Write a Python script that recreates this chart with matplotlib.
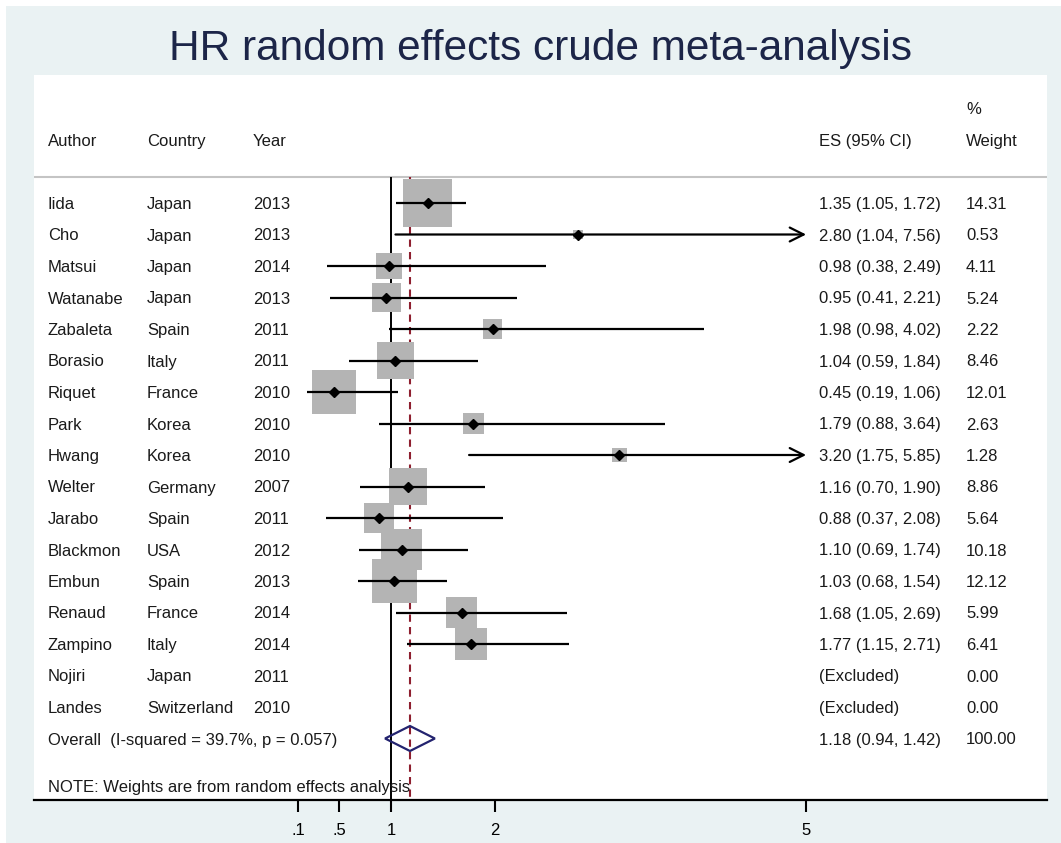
import numpy as np
import matplotlib
matplotlib.use("Agg")
import matplotlib.pyplot as plt
from matplotlib.patches import Rectangle, Polygon

plt.rcParams['font.family'] = ['Liberation Sans', 'DejaVu Sans']

# ---------------- data ----------------
authors = ["Iida", "Cho", "Matsui", "Watanabe", "Zabaleta", "Borasio", "Riquet", "Park",
           "Hwang", "Welter", "Jarabo", "Blackmon", "Embun", "Renaud", "Zampino", "Nojiri", "Landes"]
countries = ["Japan", "Japan", "Japan", "Japan", "Spain", "Italy", "France", "Korea",
             "Korea", "Germany", "Spain", "USA", "Spain", "France", "Italy", "Japan", "Switzerland"]
years = [2013, 2013, 2014, 2013, 2011, 2011, 2010, 2010, 2010, 2007, 2011, 2012, 2013, 2014, 2014, 2011, 2010]
es = [1.35, 2.80, 0.98, 0.95, 1.98, 1.04, 0.45, 1.79, 3.20, 1.16, 0.88, 1.10, 1.03, 1.68, 1.77, None, None]
lo = [1.05, 1.04, 0.38, 0.41, 0.98, 0.59, 0.19, 0.88, 1.75, 0.70, 0.37, 0.69, 0.68, 1.05, 1.15, None, None]
hi = [1.72, 7.56, 2.49, 2.21, 4.02, 1.84, 1.06, 3.64, 5.85, 1.90, 2.08, 1.74, 1.54, 2.69, 2.71, None, None]
weights = [14.31, 0.53, 4.11, 5.24, 2.22, 8.46, 12.01, 2.63, 1.28, 8.86, 5.64, 10.18, 12.12, 5.99, 6.41, 0.00, 0.00]

overall_es, overall_lo, overall_hi = 1.18, 0.94, 1.42
overall_weight = 100.00
i_squared, p_value = 39.7, 0.057

tick_values = [0.1, 0.5, 1, 2, 5]
tick_labels = [".1", ".5", "1", "2", "5"]
x_max_clip = 5

title = "HR random effects crude meta-analysis"

# ---------------- layout helpers ----------------
W, H = 1061, 843
X0PX, XS = 391.3, 103.7     # pixel of x=1, pixels per unit
Y0PX, YS = 203.0, 31.5      # pixel of first row, pixels per row


def xpx(px):
    return 1 + (px - X0PX) / XS


def ypx(py):
    return (py - Y0PX) / YS


BL = 6.0 / YS  # baseline offset from row center (cap-centred text)

fig = plt.figure(figsize=(W / 100, H / 100), dpi=100, facecolor='white')
fig.add_artist(Rectangle((6 / W, 0), 1, (H - 6) / H, transform=fig.transFigure,
                         facecolor='#EAF2F3', edgecolor='none', zorder=-10))

ax = fig.add_axes([34 / W, (H - 800) / H, (1047 - 34) / W, (800 - 75) / H])
ax.set_facecolor('white')
ax.set_xlim(xpx(34), xpx(1047))
ax.set_ylim(ypx(800), ypx(75))
for s in ['top', 'left', 'right']:
    ax.spines[s].set_visible(False)
ax.spines['bottom'].set_linewidth(1.6)
ax.spines['bottom'].set_color('black')
ax.set_yticks([])
ax.set_xticks(tick_values)
ax.set_xticklabels(tick_labels, fontsize=12)
ax.tick_params(axis='x', length=8.6, width=1.5, pad=8, colors='black')

txt_color = '#1a1a1a'
fs = 12

# header
col_author, col_country, col_year, col_es, col_w = xpx(48), xpx(147), xpx(253), xpx(819), xpx(966)
hy = ypx(140) + BL
ax.text(col_author, hy, "Author", fontsize=fs, color=txt_color, va='baseline')
ax.text(col_country, hy, "Country", fontsize=fs, color=txt_color, va='baseline')
ax.text(col_year, hy, "Year", fontsize=fs, color=txt_color, va='baseline')
ax.text(col_es, hy, "ES (95% CI)", fontsize=fs, color=txt_color, va='baseline')
ax.text(col_w, hy, "Weight", fontsize=fs, color=txt_color, va='baseline')
ax.text(col_w, ypx(108) + BL, "%", fontsize=fs, color=txt_color, va='baseline')

ax.axhline(ypx(177), color='#c4c4c4', lw=1.5, zorder=1)

# reference lines
ytop, ybot = ypx(177), ypx(800)
ax.plot([1, 1], [ytop, ybot], color='black', lw=1.4, zorder=1, solid_capstyle='butt')
ax.plot([overall_es, overall_es], [ytop, ybot], color='#8e1f2f', lw=1.5,
        ls=(0, (3.5, 2.5)), zorder=1)

rows = np.arange(len(authors))
# boxes
box_x = [e for e in es if e is not None]
box_y = [r for r, e in zip(rows, es) if e is not None]
box_s = [84.3 * w for w, e in zip(weights, es) if e is not None]
ax.scatter(box_x, box_y, s=box_s, marker='s', color='#b4b4b4', linewidths=0, zorder=2)

for r in rows:
    y = r
    ax.text(col_author, y + BL, authors[r], fontsize=fs, color=txt_color, va='baseline')
    ax.text(col_country, y + BL, countries[r], fontsize=fs, color=txt_color, va='baseline')
    ax.text(col_year, y + BL, str(years[r]), fontsize=fs, color=txt_color, va='baseline')
    if es[r] is None:
        ax.text(col_es, y + BL, "(Excluded)", fontsize=fs, color=txt_color, va='baseline')
    else:
        ax.text(col_es, y + BL, f"{es[r]:.2f} ({lo[r]:.2f}, {hi[r]:.2f})", fontsize=fs,
                color=txt_color, va='baseline')
        if hi[r] > x_max_clip:
            ax.annotate('', xy=(x_max_clip, y), xytext=(lo[r], y),
                        arrowprops=dict(arrowstyle='->,head_length=1.0,head_width=0.5',
                                        lw=1.6, color='black', shrinkA=0, shrinkB=0,
                                        mutation_scale=10), zorder=3)
        else:
            ax.plot([lo[r], hi[r]], [y, y], color='black', lw=1.6, zorder=3,
                    solid_capstyle='butt')
        ax.plot([es[r]], [y], marker='D', markersize=5.5, color='black', zorder=4)
    ax.text(col_w, y + BL, f"{weights[r]:.2f}", fontsize=fs, color=txt_color, va='baseline')

# overall
oy = len(authors)
dh = 12.5 / YS
ax.add_patch(Polygon([(overall_lo, oy), (overall_es, oy - dh), (overall_hi, oy), (overall_es, oy + dh)],
                     closed=True, facecolor='none', edgecolor='#23236f', lw=1.6, zorder=5))
ax.text(col_author, oy + BL, f"Overall  (I-squared = {i_squared:.1f}%, p = {p_value:.3f})",
        fontsize=fs, color=txt_color, va='baseline')
ax.text(col_es, oy + BL, f"{overall_es:.2f} ({overall_lo:.2f}, {overall_hi:.2f})",
        fontsize=fs, color=txt_color, va='baseline')
ax.text(col_w, oy + BL, f"{overall_weight:.2f}", fontsize=fs, color=txt_color, va='baseline')

ax.text(col_author, ypx(786) + BL, "NOTE: Weights are from random effects analysis",
        fontsize=fs, color=txt_color, va='baseline', zorder=6)

fig.text(540.5 / W, 1 - 60 / H, title, fontsize=30.5, color='#1c2548',
         ha='center', va='baseline')

fig.savefig("out.png", dpi=100, facecolor=fig.get_facecolor())
